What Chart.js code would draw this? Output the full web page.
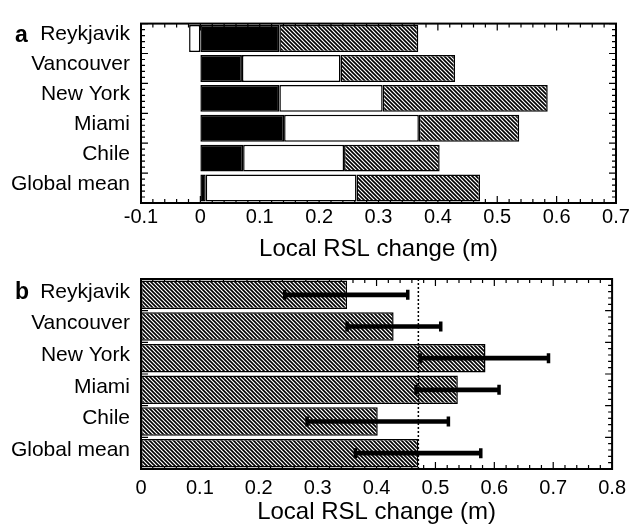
<!DOCTYPE html>
<html>
<head>
<meta charset="utf-8">
<script src="https://cdn.jsdelivr.net/npm/chart.js@4.4.0/dist/chart.umd.min.js"></script>
<style>
  body { margin: 0; background: #fff; }
  .panel { position: absolute; left: 0; }
</style>
</head>
<body>
<div class="panel" style="top:0px"><canvas id="rslParts" width="633" height="268"></canvas></div>
<div class="panel" style="top:255px"><canvas id="rslTotal" width="633" height="270"></canvas></div>
<script>
// Data
const cities = ['Reykjavik', 'Vancouver', 'New York', 'Miami', 'Chile', 'Global mean'];

// panel a: contributions stacked (black, white, hatched)
const partBlack = [0.133, 0.070, 0.133, 0.141, 0.072, 0.009];
const partWhite = [-0.019, 0.166, 0.174, 0.227, 0.170, 0.254];
const partHatch = [0.234, 0.193, 0.278, 0.169, 0.161, 0.208];

// panel b: totals and ranges
const totalRsl = [0.350, 0.429, 0.585, 0.538, 0.402, 0.471];
const rangeLow = [0.244, 0.350, 0.474, 0.467, 0.282, 0.364];
const rangeHigh = [0.453, 0.509, 0.692, 0.608, 0.522, 0.577];

const xTitle = 'Local RSL change (m)';

Chart.defaults.font.family = '"Liberation Sans", Arial, Helvetica, sans-serif';
Chart.defaults.color = '#000';

// diagonal hatch fill
function makeHatch(ctx) {
    const c = document.createElement('canvas');
    c.width = 4; c.height = 4;
    const g = c.getContext('2d');
    g.fillStyle = '#fff';
    g.fillRect(0, 0, 4, 4);
    g.strokeStyle = '#000';
    g.lineWidth = 1.6;
    g.beginPath();
    g.moveTo(-1, -1); g.lineTo(5, 5);
    g.moveTo(-1, 3); g.lineTo(1, 5);
    g.moveTo(3, -1); g.lineTo(5, 1);
    g.stroke();
    return ctx.createPattern(c, 'repeat');
}

const fmt = v => Number(v.toFixed(1)).toString();

// box, inward ticks, panel letter, optional dotted reference
const frameTicks = {
    id: 'frameTicks',
    beforeDatasetsDraw(chart, args, opts) {
        const { ctx, chartArea: a, scales: { x, y } } = chart;
        ctx.save();
        ctx.strokeStyle = '#000';
        ctx.lineWidth = 1.2;
        ctx.beginPath();
        const n = Math.round((x.max - x.min) / opts.xStep);
        for (let k = 0; k <= n; k++) {
            const px = x.getPixelForValue(x.min + k * opts.xStep);
            const len = k % opts.xEvery === 0 ? 7 : 4;
            ctx.moveTo(px, a.bottom); ctx.lineTo(px, a.bottom - len);
            ctx.moveTo(px, a.top); ctx.lineTo(px, a.top + len);
        }
        const band = y.getPixelForValue(1) - y.getPixelForValue(0);
        const y0 = y.getPixelForValue(0) - band / 2;
        const m = cities.length * opts.yDiv;
        for (let k = 0; k <= m; k++) {
            const py = y0 + k * band / opts.yDiv;
            const len = k % opts.yDiv === 0 ? 7 : 4;
            ctx.moveTo(a.left, py); ctx.lineTo(a.left + len, py);
            ctx.moveTo(a.right, py); ctx.lineTo(a.right - len, py);
        }
        ctx.stroke();
        ctx.restore();
    },
    afterDatasetsDraw(chart, args, opts) {
        const { ctx, chartArea: a, scales: { x, y } } = chart;
        ctx.save();
        if (opts.refValue !== undefined) {
            const px = x.getPixelForValue(opts.refValue);
            ctx.strokeStyle = '#000';
            ctx.lineWidth = 1.5;
            ctx.setLineDash([2, 2]);
            ctx.beginPath();
            ctx.moveTo(px, a.top); ctx.lineTo(px, a.bottom);
            ctx.stroke();
            ctx.setLineDash([]);
        }
        ctx.lineWidth = 2;
        ctx.strokeRect(a.left, a.top, a.right - a.left, a.bottom - a.top);
        ctx.fillStyle = '#000';
        ctx.font = 'bold 23px "Liberation Sans", Arial, sans-serif';
        ctx.textBaseline = 'alphabetic';
        ctx.fillText(opts.letter, 15, y.getPixelForValue(0) + opts.labelShift + 7);
        ctx.restore();
    }
};

// Panel a
const ctxA = document.getElementById('rslParts').getContext('2d');
const hatchA = makeHatch(ctxA);
new Chart(ctxA, {
    type: 'bar',
    data: {
        labels: cities,
        datasets: [{
            label: 'black',
            data: partBlack,
            backgroundColor: '#000'
        },
        {
            label: 'white',
            data: partWhite,
            backgroundColor: '#fff'
        },
        {
            label: 'hatched',
            data: partHatch,
            backgroundColor: hatchA
        }]
    },
    options: {
        indexAxis: 'y',
        responsive: false,
        animation: false,
        layout: { padding: { top: 13, right: 17, left: 0, bottom: 0 } },
        datasets: {
            bar: {
                borderColor: '#000',
                borderWidth: 1.5,
                borderSkipped: false,
                categoryPercentage: 1,
                barPercentage: 0.9
            }
        },
        plugins: {
            legend: { display: false },
            tooltip: { enabled: false },
            frameTicks: { xStep: 0.02, xEvery: 5, yDiv: 5, letter: 'a', labelShift: -4 }
        },
        scales: {
            x: {
                type: 'linear',
                stacked: true,
                min: -0.1,
                max: 0.7,
                grid: { display: false, drawTicks: false },
                border: { display: false },
                ticks: { stepSize: 0.1, padding: 2, font: { size: 20 }, callback: v => fmt(v) },
                title: { display: true, text: xTitle, font: { size: 24 }, padding: { top: 0, bottom: 4 } },
                afterFit: s => { s.height = 65; }
            },
            y: {
                type: 'category',
                stacked: true,
                grid: { display: false, drawTicks: false },
                border: { display: false },
                ticks: { padding: 11, labelOffset: -4, font: { size: 21 } },
                afterFit: s => { s.width = 141; }
            }
        }
    },
    plugins: [frameTicks]
});

// Panel b
const ctxB = document.getElementById('rslTotal').getContext('2d');
const hatchB = makeHatch(ctxB);
new Chart(ctxB, {
    type: 'bar',
    data: {
        labels: cities,
        datasets: [{
            label: 'range',
            data: rangeLow.map((v, i) => [v, rangeHigh[i]]),
            backgroundColor: '#000',
            borderWidth: 0,
            barThickness: 4,
            grouped: false,
            order: 0
        },
        {
            type: 'scatter',
            label: 'low cap',
            data: rangeLow.map((v, i) => ({ x: v, y: cities[i] })),
            pointStyle: 'line',
            rotation: 90,
            radius: 5,
            borderColor: '#000',
            borderWidth: 3.5,
            order: 0
        },
        {
            type: 'scatter',
            label: 'high cap',
            data: rangeHigh.map((v, i) => ({ x: v, y: cities[i] })),
            pointStyle: 'line',
            rotation: 90,
            radius: 5,
            borderColor: '#000',
            borderWidth: 3.5,
            order: 0
        },
        {
            label: 'total',
            data: totalRsl,
            backgroundColor: hatchB,
            borderColor: '#000',
            borderWidth: 1.5,
            borderSkipped: false,
            categoryPercentage: 1,
            barPercentage: 0.9,
            grouped: false,
            order: 1
        }]
    },
    options: {
        indexAxis: 'y',
        responsive: false,
        animation: false,
        layout: { padding: { top: 24, right: 17, left: 0, bottom: 0 } },
        plugins: {
            legend: { display: false },
            tooltip: { enabled: false },
            frameTicks: { xStep: 0.02, xEvery: 5, yDiv: 5, letter: 'b', labelShift: -3, refValue: totalRsl[5] }
        },
        scales: {
            x: {
                type: 'linear',
                min: 0,
                max: 0.8,
                grid: { display: false, drawTicks: false },
                border: { display: false },
                ticks: { stepSize: 0.1, padding: 7, font: { size: 20 }, callback: v => fmt(v) },
                title: { display: true, text: xTitle, font: { size: 24 }, padding: { top: 0, bottom: -2 } },
                afterFit: s => { s.height = 56; }
            },
            y: {
                type: 'category',
                grid: { display: false, drawTicks: false },
                border: { display: false },
                ticks: { padding: 11, labelOffset: -3, font: { size: 21 } },
                afterFit: s => { s.width = 141; }
            }
        }
    },
    plugins: [frameTicks]
});
</script>
</body>
</html>
